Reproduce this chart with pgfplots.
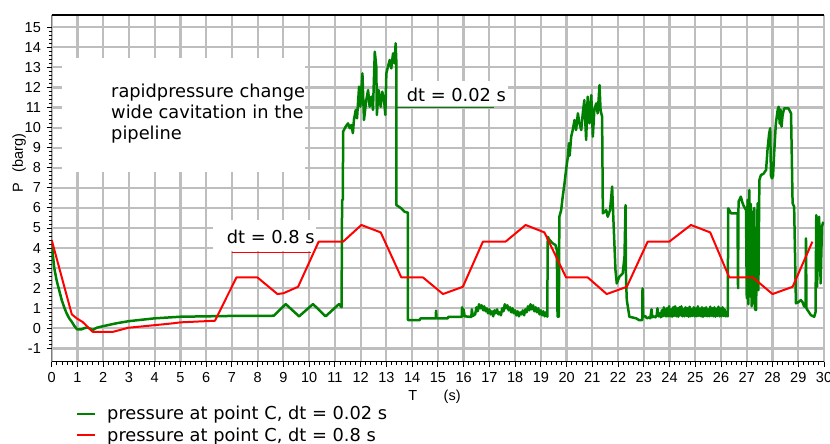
\documentclass[border=0pt]{standalone}
\usepackage{pgfplots}
\pgfplotsset{compat=1.18}
\usepackage{fontspec}
\setmainfont{DejaVu Sans}
\newfontfamily\tickfont{Liberation Sans}
\definecolor{gridgray}{RGB}{190,190,190}
\definecolor{cgreen}{RGB}{0,128,0}
\definecolor{cred}{RGB}{255,0,0}
\newcommand{\annfont}{\fontsize{17.8}{21}\selectfont}
\newcommand{\tfont}{\tickfont\fontsize{14.5}{16}\selectfont}
\begin{document}
\begin{tikzpicture}[x=1pt,y=1pt]
\path[use as bounding box] (-51.7,-82.3) rectangle (778.3,361.7);
\begin{axis}[
  scale only axis, width=772.3pt, height=346.7pt,
  xmin=0, xmax=30, ymin=-1.66, ymax=15.61,
  xtick={0,1,...,30}, ytick={-1,0,...,15},
  minor x tick num=4, minor y tick num=4,
  tick align=outside, tick pos=left,
  major tick length=5pt, minor tick length=3pt,
  tick style={black, line width=0.9pt},
  xmajorgrids=true, ymajorgrids=true,
  grid style={draw=gridgray, line width=2.2pt},
  axis line style={draw=none},
  /pgf/number format/assume math mode=true,
  ticklabel style={font=\tfont},
  xticklabel style={anchor=north, yshift=-2pt},
  yticklabel style={anchor=east, xshift=-2.3pt},
  xlabel={T\hspace{26.5pt}(s)},
  xlabel style={font=\tfont, at={(axis description cs:0.4957,-0.1018)}, anchor=center},
  ylabel={P\hspace{11pt}(barg)},
  ylabel style={font=\tfont, at={(axis description cs:-0.0423,0.573)}, anchor=center, rotate=0},
  clip=true,
]
% white annotation backgrounds
\fill[white] (axis cs:0.40,7.79) rectangle (axis cs:9.83,13.47);
\fill[white] (axis cs:13.43,11.07) rectangle (axis cs:17.71,12.30);
\fill[white] (axis cs:6.28,3.85) rectangle (axis cs:10.26,5.40);
% axis border lines
\draw[black, line width=1.3pt] (rel axis cs:0,1) -- (rel axis cs:0,0) -- (rel axis cs:1,0);
\draw[black, line width=1.6pt] (rel axis cs:0,1) -- (rel axis cs:1,1);

% pressure at point C, dt = 0.02 s
\addplot[cgreen, line width=2.5pt, line join=round] coordinates {
(0,4.3) (0.05,3.6) (0.1,3.0) (0.19,2.4) (0.3,1.85) (0.39,1.41) (0.5,1.0) (0.58,0.75)
(0.68,0.5) (0.78,0.33) (0.88,0.12) (0.99,-0.05) (1.15,-0.05) (1.25,0.0) (1.38,0.05)
(1.5,-0.02) (1.59,-0.08) (1.75,0.03) (2.0,0.11) (2.5,0.25) (3.0,0.36) (3.5,0.43)
(4.0,0.5) (4.5,0.54) (5.0,0.58) (6.0,0.6) (7.0,0.62) (8.0,0.62) (8.63,0.63)
(9.09,1.21) (9.61,0.6) (10.15,1.21) (10.64,0.6) (11.16,1.21) (11.26,1.05)
(11.28,6.4) (11.31,6.4) (11.32,9.80) (11.42,10.05) (11.51,10.21) (11.58,9.97)
(11.64,10.13) (11.70,9.72) (11.74,10.38) (11.81,10.88) (11.86,10.46) (11.94,12.04)
(11.99,11.04) (12.07,12.70) (12.13,10.38) (12.22,11.37) (12.29,11.87) (12.35,11.04)
(12.42,11.54) (12.48,10.88) (12.55,13.78) (12.61,13.03) (12.63,10.63) (12.70,11.87)
(12.78,11.04) (12.84,11.79) (12.91,11.37) (12.96,10.63) (13.00,12.70) (13.06,13.03)
(13.13,13.37) (13.19,12.95) (13.26,13.70) (13.32,13.20) (13.36,14.20) (13.39,13.20)
(13.39,6.14) (13.58,5.98) (13.71,5.81) (13.84,5.76) (13.84,0.41) (14.29,0.41)
(14.33,0.5) (14.92,0.5) (14.93,0.88) (14.95,0.5) (15.39,0.5) (15.40,0.57)
(15.93,0.57) (15.94,1.05) (15.96,0.6) (16.0,0.95) (16.04,0.6) (16.3,0.57)
(16.32,0.95) (16.36,0.62) (16.45,0.7) (16.5,1.05) (16.55,0.85) (16.6,1.2)
(16.65,1.0) (16.7,1.15) (16.76,0.9) (16.8,1.1) (16.86,0.85) (16.9,1.0) (16.95,0.75)
(17.0,0.95) (17.05,0.7) (17.1,0.85) (17.15,0.6) (17.2,0.9) (17.25,0.75) (17.3,0.95)
(17.35,0.7) (17.4,0.8) (17.45,0.65) (17.5,1.0) (17.55,0.85) (17.6,1.2) (17.65,1.0)
(17.7,1.15) (17.75,0.9) (17.8,1.05) (17.85,0.8) (17.9,1.0) (17.95,0.75) (18.0,0.9)
(18.05,0.65) (18.1,0.85) (18.15,0.6) (18.2,0.8) (18.25,0.7) (18.3,0.9) (18.35,0.65)
(18.4,0.95) (18.45,0.8) (18.5,1.1) (18.55,0.9) (18.6,1.2) (18.65,0.95) (18.7,1.15)
(18.75,0.85) (18.8,1.05) (18.85,0.8) (18.9,1.0) (18.95,0.7) (19.0,0.9) (19.05,0.65)
(19.1,0.85) (19.15,0.6) (19.2,0.8) (19.25,0.58)
(19.27,4.56) (19.34,4.40) (19.46,4.24) (19.57,4.15) (19.62,3.9) (19.65,0.58)
(19.70,0.58) (19.72,5.56) (19.79,5.89) (19.85,6.56) (19.92,7.22) (19.98,7.89)
(20.05,8.55) (20.09,9.22) (20.12,8.6) (20.18,9.55) (20.24,9.88) (20.31,10.38)
(20.37,9.88) (20.44,10.71) (20.50,10.21) (20.57,9.88) (20.63,10.71) (20.69,11.37)
(20.76,9.38) (20.82,11.54) (20.89,10.21) (20.96,11.62) (21.02,9.55) (21.08,10.88)
(21.15,11.21) (21.21,10.71) (21.28,12.12) (21.32,10.88) (21.38,10.54) (21.41,5.73)
(21.54,5.89) (21.60,5.56) (21.69,5.89) (21.77,7.06) (21.82,5.40) (21.90,2.90)
(21.95,2.24) (22.05,2.57) (22.18,2.74) (22.25,3.57) (22.29,6.14) (22.31,2.41)
(22.34,1.41) (22.44,0.58) (22.7,0.5) (22.82,0.41) (22.94,0.41) (22.95,1.99)
(22.98,0.58) (23.05,0.62) (23.12,0.5) (23.2,0.55) (23.25,0.5) (23.3,0.95) (23.33,0.55)
(23.4,0.6) (23.45,0.55) (23.5,0.65) (23.53,1.0) (23.57,0.6) (23.62,0.75) (23.66,0.55)
(23.7,0.9) (23.74,0.6) (23.78,1.05) (23.82,0.65) (23.86,0.6) (23.9,1.0) (23.94,0.6)
(23.98,1.1) (24.02,0.6) (24.06,0.95) (24.1,0.58) (24.14,1.05) (24.18,0.62) (24.22,1.1)
(24.26,0.6) (24.3,1.0) (24.34,0.58) (24.38,1.05) (24.42,0.65) (24.46,1.1) (24.5,0.6)
(24.54,0.95) (24.58,0.6) (24.62,1.05) (24.66,0.62) (24.7,1.0) (24.74,0.58) (24.78,1.08)
(24.82,0.6) (24.86,0.95) (24.9,0.62) (24.94,1.05) (24.98,0.6) (25.02,1.0) (25.06,0.6)
(25.1,1.1) (25.14,0.62) (25.18,0.98) (25.22,0.6) (25.26,1.05) (25.3,0.58) (25.34,1.0)
(25.38,0.62) (25.42,1.05) (25.46,0.6) (25.5,0.95) (25.54,0.6) (25.58,1.08) (25.62,0.62)
(25.66,1.0) (25.7,0.6) (25.74,1.05) (25.78,0.58) (25.82,0.98) (25.86,0.62) (25.9,1.08)
(25.94,0.6) (25.98,1.0) (26.02,0.6) (26.06,1.05) (26.1,0.62) (26.14,0.95) (26.18,0.6)
(26.22,0.65) (26.26,0.6)
(26.28,5.98) (26.39,5.73) (26.64,5.73) (26.66,2.0) (26.68,6.31) (26.77,6.56)
(26.82,6.3) (26.88,6.1) (26.97,5.9) (27.0,1.5) (27.03,6.4) (27.06,1.2) (27.10,6.89)
(27.13,1.6) (27.16,6.2) (27.19,1.1) (27.22,5.8) (27.26,1.25) (27.29,6.0) (27.32,0.95)
(27.36,0.91) (27.42,6.23) (27.45,1.9) (27.49,7.39) (27.55,7.64) (27.65,7.7)
(27.75,7.89) (27.81,8.97) (27.87,9.72) (27.91,9.97) (27.94,7.6) (27.98,7.47)
(28.02,7.6) (28.07,8.88) (28.13,10.21) (28.20,10.88) (28.24,11.04) (28.28,10.2)
(28.31,10.9) (28.35,10.05) (28.39,10.6) (28.45,10.96) (28.52,10.96) (28.62,10.96)
(28.72,10.71) (28.78,6.23) (28.84,6.06) (28.91,1.25) (29.0,1.3) (29.10,1.41)
(29.17,1.3) (29.23,1.08) (29.28,1.1) (29.30,4.48) (29.32,1.0) (29.36,0.91)
(29.49,0.66) (29.62,0.58) (29.67,0.8) (29.70,5.64) (29.73,2.07) (29.81,5.56)
(29.87,2.24) (29.92,5.06) (29.97,5.31)
};

% pressure at point C, dt = 0.8 s
\addplot[cred, line width=2pt, line join=round] coordinates {
(0,4.4) (0.78,0.7) (0.97,0.5) (1.2,0.32) (1.59,-0.17) (2.39,-0.17) (2.97,0.03)
(4.0,0.16) (4.7,0.25) (5.0,0.3) (6.34,0.38) (7.18,2.54) (7.99,2.54) (8.77,1.71)
(9.0,1.75) (9.57,2.07) (10.37,4.32) (11.32,4.32) (12.03,5.15) (12.78,4.78)
(13.58,2.54) (14.42,2.54) (15.2,1.71) (15.97,2.07) (16.75,4.32) (17.63,4.32)
(18.41,5.15) (19.14,4.78) (19.98,2.54) (20.82,2.54) (21.56,1.71) (22.34,2.07)
(23.15,4.32) (23.99,4.32) (24.83,5.15) (25.58,4.78) (26.32,2.54) (27.23,2.54)
(28.0,1.71) (28.78,2.07) (29.55,4.32)
};

% annotation underlines
\draw[cgreen, line width=1.3pt] (axis cs:13.40,11.0) -- (axis cs:17.2,11.0);
\draw[cred, line width=1.1pt] (axis cs:7.0,3.77) -- (axis cs:10.06,3.77);
\end{axis}
% annotation texts
\node[anchor=base west, inner sep=0pt, font=\annfont] at (59.3,263.7) {rapidpressure change};
\node[anchor=base west, inner sep=0pt, font=\annfont] at (59.3,242.7) {wide cavitation in the};
\node[anchor=base west, inner sep=0pt, font=\annfont] at (59.3,221.7) {pipeline};
\node[anchor=base west, inner sep=0pt, font=\annfont] at (355,260) {dt = 0.02 s};
\node[anchor=base west, inner sep=0pt, font=\annfont] at (175,118.4) {dt = 0.8 s};
% legend
\draw[cgreen, line width=2.5pt] (25.3,-52.3) -- (43.3,-52.3);
\node[anchor=base west, inner sep=0pt, font=\annfont] at (55.3,-58.3) {pressure at point C, dt = 0.02 s};
\draw[cred, line width=2.5pt] (25.3,-73.3) -- (43.3,-73.3);
\node[anchor=base west, inner sep=0pt, font=\annfont] at (55.3,-79.3) {pressure at point C, dt = 0.8 s};
\end{tikzpicture}
\end{document}
